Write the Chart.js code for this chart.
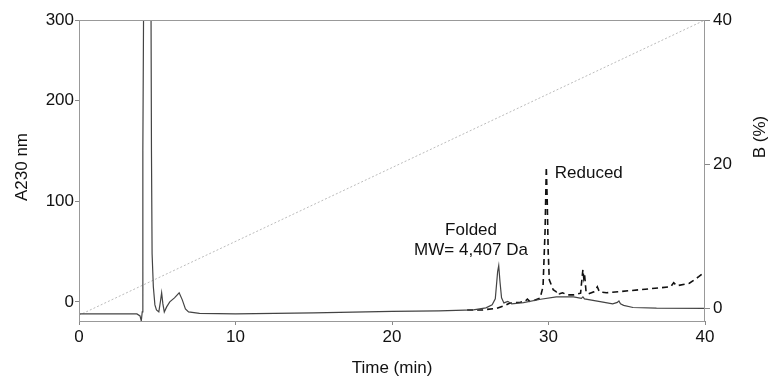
<!DOCTYPE html>
<html>
<head>
<meta charset="utf-8">
<script src="https://cdn.jsdelivr.net/npm/chart.js@4"></script>
<style>
  body { margin: 0; background: #fff; }
  canvas { display: block; }
</style>
</head>
<body>
<canvas id="chart" width="768" height="382"></canvas>
<script>
// folded sample, A230 (solid)
const foldedTime = [0, 3.7, 3.9, 3.98, 4.04, 4.08, 4.13, 4.6, 4.63, 4.67, 4.75, 4.85, 4.95, 5.1, 5.2, 5.28, 5.36, 5.45, 5.6, 5.8, 6.1, 6.4, 6.6, 6.8, 7.0, 7.7, 10, 15, 20, 23, 25.2, 26.0, 26.4, 26.6, 26.75, 26.82, 26.9, 27.0, 27.15, 27.4, 27.65, 28.4, 29.5, 30.5, 31.6, 32.1, 32.2, 32.3, 33.3, 34.1, 34.4, 34.5, 34.6, 34.8, 35.4, 36.9, 40];
const foldedA230 = [-12, -12, -14, -19, -10, 150, 300, 300, 150, 48, 15, -3, -8, -10, 0, 9, -2, -10, -5, 0, 4, 9, 2, -7, -10, -11.5, -12, -11, -9.5, -9, -8, -6, -3, 3, 30, 36, 20, 4, -1, 0.5, -2, -0.7, 2.6, 5, 5, 3.5, 5, 3, 0.3, -2, -0.5, 1, -2, -3.5, -5.6, -6.3, -6.5];

// reduced sample, A230 (dashed)
const reducedTime = [24.8, 25.8, 26.7, 27.3, 27.5, 28.2, 28.5, 28.65, 28.8, 29.0, 29.46, 29.65, 29.78, 29.86, 29.92, 29.98, 30.05, 30.3, 30.5, 30.6, 30.7, 30.9, 31.2, 31.6, 32.05, 32.15, 32.2, 32.25, 32.3, 32.4, 32.55, 32.9, 33.05, 33.12, 33.25, 33.7, 35.8, 37.8, 38.0, 38.2, 39.0, 39.6, 40];
const reducedA230 = [-8, -8, -6.3, -3, -1.3, -0.3, 0.5, 2.7, 0.5, 1, 3.7, 15, 70, 134, 100, 50, 22, 12, 10, 11, 8, 9, 7, 7, 8.6, 25, 32, 24, 28, 10, 8, 10, 13, 15, 10, 9, 12, 15, 19, 16, 18.5, 25, 30];

// solvent B gradient (dotted)
const gradientTime = [0, 40];
const gradientB = [-1, 40];

const xTicks = [0, 10, 20, 30, 40];
const leftTickValues = [0, 100, 200, 280];
const leftTickLabels = ['0', '100', '200', '300'];
const rightTicks = [0, 20, 40];

const notes = [
  { text: 'Folded', x: 25.05, y: 71, align: 'center' },
  { text: 'MW= 4,407 Da', x: 25.05, y: 51.5, align: 'center' },
  { text: 'Reduced', x: 30.4, y: 128, align: 'left' }
];

const FONT = '"Liberation Sans", Arial, sans-serif';
const toPoints = (xs, ys) => xs.map((x, i) => ({ x: x, y: ys[i] }));

const framePlugin = {
  id: 'frame',
  afterDraw(chart) {
    const ctx = chart.ctx;
    const a = chart.chartArea;
    ctx.save();
    ctx.strokeStyle = '#999';
    ctx.lineWidth = 1;
    ctx.strokeRect(a.left + 0.5, a.top + 0.5, a.right - a.left - 1, a.bottom - a.top);

    ctx.fillStyle = '#111';
    ctx.font = '17px ' + FONT;
    ctx.textBaseline = 'middle';
    const xs = chart.scales.x, ys = chart.scales.y;
    notes.forEach(n => {
      ctx.textAlign = n.align;
      ctx.fillText(n.text, xs.getPixelForValue(n.x), ys.getPixelForValue(n.y));
    });

    // axis titles
    ctx.textAlign = 'center';
    ctx.fillText('Time (min)', (a.left + a.right) / 2, 368);
    ctx.save();
    ctx.translate(22, 167);
    ctx.rotate(-Math.PI / 2);
    ctx.fillText('A230 nm', 0, 0);
    ctx.restore();
    ctx.save();
    ctx.translate(760, 137);
    ctx.rotate(-Math.PI / 2);
    ctx.fillText('B (%)', 0, 0);
    ctx.restore();
    ctx.restore();
  }
};

const tickFont = { family: FONT, size: 17 };

new Chart(document.getElementById('chart'), {
  type: 'line',
  data: {
    datasets: [
      {
        data: toPoints(foldedTime, foldedA230),
        yAxisID: 'y',
        borderColor: '#444',
        borderWidth: 1.2,
        pointRadius: 0,
        tension: 0
      },
      {
        data: toPoints(reducedTime, reducedA230),
        yAxisID: 'y',
        borderColor: '#111',
        borderWidth: 1.6,
        borderDash: [6, 4],
        pointRadius: 0,
        tension: 0
      },
      {
        data: toPoints(gradientTime, gradientB),
        yAxisID: 'y1',
        borderColor: '#bbb',
        borderWidth: 1,
        borderDash: [2, 2],
        pointRadius: 0,
        tension: 0
      }
    ]
  },
  options: {
    responsive: false,
    animation: false,
    layout: { padding: { top: 20, left: 0, right: 0, bottom: 0 } },
    plugins: { legend: { display: false }, tooltip: { enabled: false } },
    scales: {
      x: {
        type: 'linear',
        min: 0,
        max: 40,
        afterBuildTicks: s => { s.ticks = xTicks.map(v => ({ value: v })); },
        afterFit: s => { s.height = 61; },
        grid: { drawOnChartArea: false, tickLength: 4, color: '#888' },
        border: { display: false },
        ticks: { font: tickFont, color: '#111', padding: 2, maxRotation: 0 }
      },
      y: {
        position: 'left',
        min: -19,
        max: 280,
        afterBuildTicks: s => { s.ticks = leftTickValues.map(v => ({ value: v })); },
        afterFit: s => { s.width = 79; },
        grid: { drawOnChartArea: false, tickLength: 4, color: '#888' },
        border: { display: false },
        ticks: {
          font: tickFont,
          color: '#111',
          padding: 1,
          callback: (v, i) => leftTickLabels[i]
        }
      },
      y1: {
        position: 'right',
        min: -1.8,
        max: 40,
        afterBuildTicks: s => { s.ticks = rightTicks.map(v => ({ value: v })); },
        afterFit: s => { s.width = 63; },
        grid: { drawOnChartArea: false, tickLength: 5, color: '#888' },
        border: { display: false },
        ticks: { font: tickFont, color: '#111', padding: 3 }
      }
    }
  },
  plugins: [framePlugin]
});
</script>
</body>
</html>
